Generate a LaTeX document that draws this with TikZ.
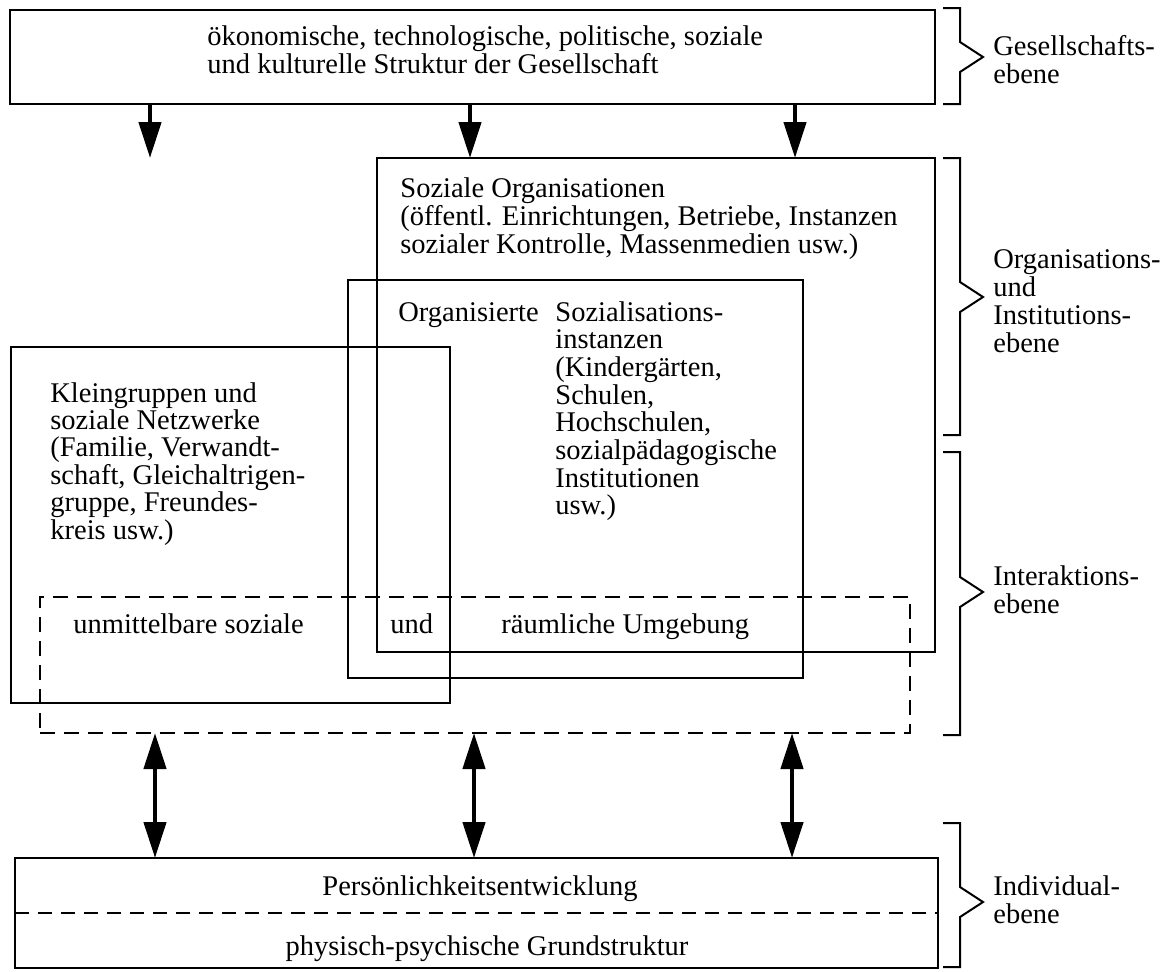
\documentclass[tikz,border=0pt]{standalone}
\usepackage{fontspec}
\setmainfont{Liberation Serif}
\usetikzlibrary{arrows.meta}
\newcommand{\levelbrace}[3]{%
  \draw[bracel] (943,#1) -- (960,#1) -- (960,{#3-15}) -- (983,#3) -- (960,{#3+15}) -- (960,#2) -- (943,#2);}
\begin{document}
\begin{tikzpicture}[x=0.5pt,y=-0.5pt,
  box/.style={draw, line width=1pt, inner sep=0pt, outer sep=0pt, anchor=north west},
  dashed box/.style={box, dash pattern=on 7.5pt off 4.5pt},
  dline/.style={line width=1pt, dash pattern=on 7pt off 4.5pt},
  txt/.style={inner sep=0pt, anchor=base west, font=\fontsize{14.25}{14}\selectfont},
  ctxt/.style={inner sep=0pt, anchor=base, font=\fontsize{14.25}{14}\selectfont},
  down/.style={line width=2.2pt, -{Triangle[length=18pt,width=11pt]}},
  both/.style={line width=2.2pt, {Triangle[length=18pt,width=11pt]}-{Triangle[length=18pt,width=11pt]}},
  bracel/.style={line width=1pt}]
\useasboundingbox (0,0) rectangle (1166,971);

% boxes
\node[box, minimum width=462.5pt, minimum height=47pt] (top) at (10,10) {};
\node[box, minimum width=279pt, minimum height=247pt] (so) at (377,158) {};
\node[box, minimum width=227.5pt, minimum height=199pt] (org) at (348,280) {};
\node[box, minimum width=219.5pt, minimum height=178pt] (kg) at (11,347) {};
\node[dashed box, minimum width=435pt, minimum height=68pt] (dash) at (40,597) {};
\node[box, minimum width=461.5pt, minimum height=55pt] (ind) at (15,858) {};
\draw[dline] (ind.west) -- (ind.east);

% top text
\node[txt] (t1) at (207,45) {ökonomische, technologische, politische, soziale};
\node[txt] (t2) at (207,73) {und kulturelle Struktur der Gesellschaft};

% soziale Organisationen
\foreach \t [count=\i] in {{Soziale Organisationen},{(öffentl. Einrichtungen, Betriebe, Instanzen},{sozialer Kontrolle, Massenmedien usw.)}}
  \node[txt] (so\i) at (400,{197+28*(\i-1)}) {\t};

% organisierte
\node[txt] (orgA) at (398,321) {Organisierte};
\foreach \t [count=\i] in {{Sozialisations-},{instanzen},{(Kindergärten,},{Schulen,},{Hochschulen,},{sozialpädagogische},{Institutionen},{usw.)}}
  \node[txt] (org\i) at (555,{321+27.7*(\i-1)}) {\t};

% kleingruppen
\foreach \t [count=\i] in {{Kleingruppen und},{soziale Netzwerke},{(Familie, Verwandt-},{schaft, Gleichaltrigen-},{gruppe, Freundes-},{kreis usw.)}}
  \node[txt] (kg\i) at (50,{402+27.4*(\i-1)}) {\t};

% dashed box texts
\node[txt] (um) at (73,633) {unmittelbare soziale};
\node[txt] (und) at (390,633) {und};
\node[txt] (rau) at (501,633) {räumliche Umgebung};

% individual box texts
\node[ctxt] (pe) at (480,895) {Persönlichkeitsentwicklung};
\node[ctxt] (pg) at (487,955) {physisch-psychische Grundstruktur};

% arrows down
\coordinate (d1) at (150,158);
\coordinate (d2) at (470,0);
\coordinate (d3) at (795,0);
\draw[down] (top.south -| d1) -- (d1);
\draw[down] (top.south -| d2) -- (so.north -| d2);
\draw[down] (top.south -| d3) -- (so.north -| d3);

% double arrows
\coordinate (u1) at (155,0);
\coordinate (u2) at (474,0);
\coordinate (u3) at (792,0);
\foreach \u in {u1,u2,u3}
  \draw[both] (dash.south -| \u) -- (ind.north -| \u);

% level braces
\levelbrace{8}{104}{57}
\levelbrace{158}{435}{297}
\levelbrace{452}{735}{592}
\levelbrace{823}{967}{902}

% level labels
\node[txt] (g1) at (993,55) {Gesellschafts-};
\node[txt] (g2) at (993,83) {ebene};
\node[txt] (o1) at (993,268) {Organisations-};
\node[txt] (o2) at (993,296) {und};
\node[txt] (o3) at (993,324) {Institutions-};
\node[txt] (o4) at (993,352) {ebene};
\node[txt] (i1) at (993,585) {Interaktions-};
\node[txt] (i2) at (993,613) {ebene};
\node[txt] (n1) at (993,895) {Individual-};
\node[txt] (n2) at (993,923) {ebene};
\end{tikzpicture}
\end{document}
